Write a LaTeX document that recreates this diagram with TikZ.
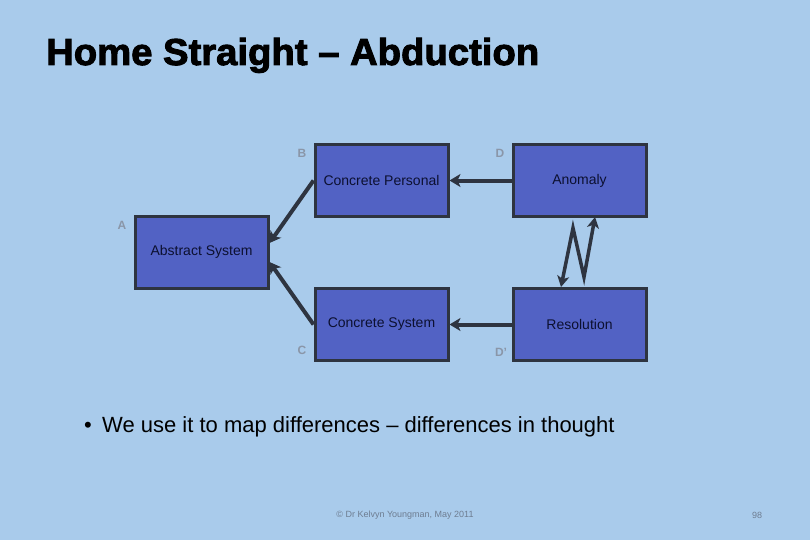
\documentclass[tikz,border=0pt]{standalone}
\usepackage{fontspec}
\setmainfont{Liberation Sans}
\newfontfamily\titlefont[BoldFeatures={FakeBold=2.5,FakeStretch=1.02}]{Liberation Sans}
\usetikzlibrary{arrows.meta,calc}
\definecolor{bg}{HTML}{A9CBEB}
\definecolor{boxfill}{HTML}{5262C4}
\definecolor{boxline}{HTML}{2E3440}
\definecolor{boxtext}{HTML}{0C1030}
\definecolor{lbl}{HTML}{8A96A8}
\definecolor{foot}{HTML}{6E7D91}
\tikzset{
  sysbox/.style={draw=boxline, fill=boxfill, line width=3pt, minimum width=133pt, minimum height=72pt, inner sep=0pt, text=boxtext, font=\fontsize{14}{16}\selectfont},
  lettr/.style={text=lbl, font=\bfseries\fontsize{12}{14}\selectfont, inner sep=0pt},
  arr/.style={draw=boxline, line width=4pt, -{Stealth[length=11pt,width=13pt,inset=3pt]}},
  arrboth/.style={draw=boxline, line width=3.5pt, {Stealth[length=11pt,width=12pt,inset=3pt]}-{Stealth[length=11pt,width=12pt,inset=3pt]}, line join=miter},
}
\begin{document}
\begin{tikzpicture}[x=1pt,y=-1pt]
\fill[bg] (0,0) rectangle (810,540);
\useasboundingbox (0,0) rectangle (810,540);
\node[anchor=base west, inner sep=0pt, font=\titlefont\bfseries\fontsize{37.5}{44}\selectfont] (title) at (46,65) {Home Straight – Abduction};
\node[sysbox] (cp) at (381.5,180.5) {Concrete Personal};
\node[sysbox] (an) at (579.5,180.5) {Anomaly};
\node[sysbox] (ab) at (201.5,252) {Abstract System};
\node[sysbox] (cs) at (381.5,324.5) {Concrete System};
\node[sysbox] (re) at (579.5,324.5) {Resolution};
\node[lettr] (lB) at (302,153) {B};
\node[lettr] (lD) at (500,153) {D};
\node[lettr] (lA) at (122,225) {A};
\node[lettr] (lC) at (302,350) {C};
\node[lettr] (lDp) at (501,352) {D’};
\draw[arr] (an.west) -- (cp.east);
\draw[arr] (re.west) -- (cs.east);
\draw[arr] (cp.west) -- ([yshift=9pt]ab.east);
\draw[arr] (cs.west) -- ([yshift=-10pt]ab.east);
\coordinate (zb) at (561,287);
\coordinate (z1) at (573,228);
\coordinate (z2) at (584,277);
\coordinate (zt) at (595,217);
\draw[arrboth] (zb) -- (z1) -- (z2) -- (zt);
\node[anchor=base west, inner sep=0pt, font=\fontsize{22}{26}\selectfont] (bul) at (84,432) {•};
\node[anchor=base west, inner sep=0pt, font=\fontsize{22}{26}\selectfont] (btext) at (102,432) {We use it to map differences – differences in thought};
\node[text=foot, font=\fontsize{9}{11}\selectfont, inner sep=0pt] (ft) at (405,515) {© Dr Kelvyn Youngman, May 2011};
\node[text=foot, font=\fontsize{9}{11}\selectfont, inner sep=0pt] (pg) at (757,515) {98};
\end{tikzpicture}
\end{document}
